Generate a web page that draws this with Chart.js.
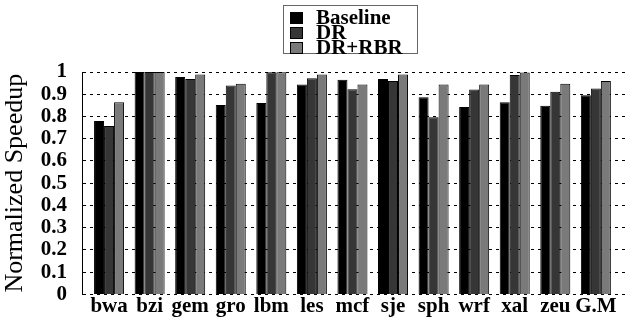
<!DOCTYPE html>
<html>
<head>
<meta charset="utf-8">
<script src="https://cdn.jsdelivr.net/npm/chart.js@4/dist/chart.umd.min.js"></script>
<style>
  body { margin: 0; background: #fff; }
</style>
</head>
<body>
<canvas id="myChart" width="631" height="322"></canvas>
<script>
// benchmarks on x axis
const categories = ["bwa", "bzi", "gem", "gro", "lbm", "les", "mcf", "sje", "sph", "wrf", "xal", "zeu", "G.M"];
const seriesNames = ["Baseline", "DR", "DR+RBR"];
const baseline = [0.78, 1.0, 0.977, 0.852, 0.861, 0.944, 0.965, 0.969, 0.887, 0.843, 0.864, 0.848, 0.896];
const dr = [0.757, 1.0, 0.969, 0.939, 0.999, 0.972, 0.922, 0.959, 0.797, 0.921, 0.986, 0.911, 0.926];
const drRbr = [0.864, 1.0, 0.989, 0.947, 0.999, 0.989, 0.944, 0.989, 0.944, 0.944, 0.998, 0.947, 0.959];
const yTicks = ["0", "0.1", "0.2", "0.3", "0.4", "0.5", "0.6", "0.7", "0.8", "0.9", "1"];

const serif = "'Liberation Serif', 'Times New Roman', serif";
const canvas = document.getElementById("myChart");

// legend drawn as a boxed list above the plot
const boxLegend = {
  id: "boxLegend",
  afterDraw(chart) {
    const ctx = chart.ctx;
    ctx.save();
    ctx.strokeStyle = "#666";
    ctx.lineWidth = 1;
    ctx.strokeRect(283.5, 5.5, 134, 48);
    ctx.font = "bold 21px " + serif;
    ctx.textBaseline = "middle";
    chart.data.datasets.forEach((ds, i) => {
      const y = 18 + i * 15;
      ctx.fillStyle = ds.backgroundColor;
      ctx.fillRect(290, y - 6, 13, 12);
      ctx.strokeStyle = "#000";
      ctx.strokeRect(290.5, y - 5.5, 12, 11);
      ctx.fillStyle = "#000";
      ctx.fillText(ds.label, 316, y + 1);
    });
    ctx.restore();
  }
};

const chart = new Chart(canvas, {
  type: "bar",
  data: {
    labels: categories,
    datasets: [
      { label: seriesNames[0], data: baseline, backgroundColor: "#000000" },
      { label: seriesNames[1], data: dr, backgroundColor: "#363636" },
      { label: seriesNames[2], data: drRbr, backgroundColor: "#7a7a7a" },
    ],
  },
  options: {
    responsive: false,
    animation: false,
    layout: { padding: { top: 72, right: 5, left: 0, bottom: 0 } },
    datasets: {
      bar: {
        borderColor: "#000",
        borderWidth: 1,
        categoryPercentage: 0.74,
        barPercentage: 1.0,
      },
    },
    plugins: {
      legend: { display: false },
      tooltip: { enabled: false },
    },
    scales: {
      x: {
        grid: { display: false, drawTicks: false },
        border: { display: false },
        ticks: { color: "#000", font: { family: serif, size: 21, weight: "bold" }, padding: 0, maxRotation: 0, autoSkip: false },
        afterFit(scale) { scale.height = 27; },
        afterBuildTicks(scale) {
          // small extra gap before the first and after the last group
          scale._startValue = -0.667;
          scale._valueRange = 13.41;
        },
      },
      y: {
        min: 0,
        max: 1,
        grid: { color: "#000", lineWidth: 1, drawTicks: false },
        border: { display: true, color: "#000", width: 1, dash: [3, 4] },
        ticks: {
          stepSize: 0.1,
          autoSkip: false,
          color: "#000",
          padding: 15,
          font: { family: serif, size: 21, weight: "bold" },
          callback: (v, i) => yTicks[i],
        },
        title: {
          display: true,
          text: "Normalized Speedup",
          color: "#000",
          font: { family: serif, size: 26 },
          padding: { top: 0, bottom: 0 },
        },
        afterFit(scale) { scale.width = 82; },
      },
    },
  },
  plugins: [boxLegend],
});
</script>
</body>
</html>
